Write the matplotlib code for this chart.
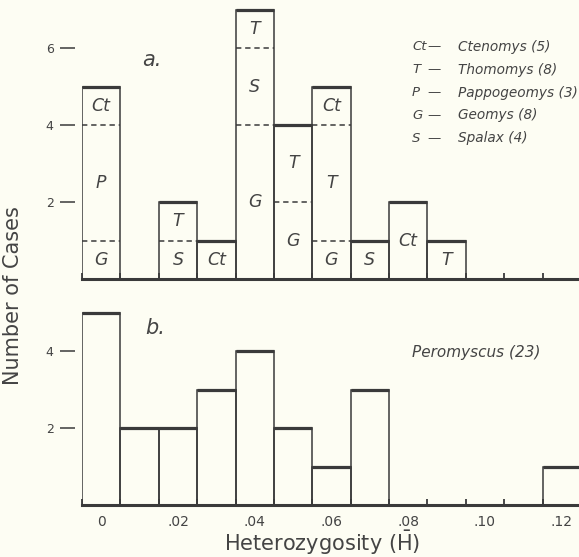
import numpy as np
import matplotlib.pyplot as plt
from matplotlib.ticker import FixedLocator

# heterozygosity classes (bin centres) and counts
bins = [0.00, 0.01, 0.02, 0.03, 0.04, 0.05, 0.06, 0.07, 0.08, 0.09, 0.10, 0.11, 0.12]

# a. fossorial rodents, stacked by genus (bottom -> top)
geomys      = [1, 0, 0, 0, 4, 2, 1, 0, 0, 0, 0, 0, 0]
pappogeomys = [3, 0, 0, 0, 0, 0, 0, 0, 0, 0, 0, 0, 0]
spalax      = [0, 0, 1, 0, 2, 0, 0, 1, 0, 0, 0, 0, 0]
thomomys    = [0, 0, 1, 0, 1, 2, 3, 0, 0, 1, 0, 0, 0]
ctenomys    = [1, 0, 0, 1, 0, 0, 1, 0, 2, 0, 0, 0, 0]
codes = ["G", "P", "S", "T", "Ct"]

legend_codes = ["Ct", "T", "P", "G", "S"]
legend_names = ["Ctenomys (5)", "Thomomys (8)", "Pappogeomys (3)", "Geomys (8)", "Spalax (4)"]

# b. Peromyscus
peromyscus = [5, 2, 2, 3, 4, 2, 1, 3, 0, 0, 0, 0, 1]

xtick_pos = [0.00, 0.02, 0.04, 0.06, 0.08, 0.10, 0.12]
xtick_labels = ["0", ".02", ".04", ".06", ".08", ".10", ".12"]

ink = "#3a3a3a"
txt = "#444444"
bg = "#fdfdf3"
W, H = 579, 557
w = 0.01

fig = plt.figure(figsize=(W / 100, H / 100), dpi=100, facecolor=bg)

def px(x, y):
    return x / W, 1 - y / H

left = 82 / W
ax_a = fig.add_axes([left, (H - 279) / H, 1 - left, 279 / H])
ax_b = fig.add_axes([left, (H - 505) / H, 1 - left, 220 / H])


def style(ax, ytop, yticks, labels):
    ax.set_facecolor(bg)
    ax.set_xlim(-0.005, 0.1245)
    ax.set_ylim(0, ytop)
    for s in ["top", "right"]:
        ax.spines[s].set_visible(False)
    ax.spines["left"].set_position(("outward", 5))
    ax.spines["left"].set_visible(False)
    ax.spines["bottom"].set_linewidth(2.2)
    ax.spines["bottom"].set_color(ink)
    ax.set_yticks(yticks)
    ax.tick_params(axis="y", length=10.5, width=1.1, color=ink, labelcolor=txt,
                   labelsize=9, pad=5)
    ax.set_xticks(xtick_pos)
    ax.set_xticklabels(xtick_labels if labels else [])
    ax.tick_params(axis="x", which="major", length=0, labelsize=10, labelcolor=txt, pad=7)
    edges = np.arange(-0.005, 0.13, 0.01)
    ax.xaxis.set_minor_locator(FixedLocator(edges))
    ax.tick_params(axis="x", which="minor", direction="in", length=4, width=1.3, color=ink)


def draw_bars(ax, totals):
    totals = np.array(totals)
    x = np.array(bins)
    ax.bar(x, totals, width=w, facecolor="none", edgecolor=ink, linewidth=1.1)
    m = totals > 0
    ax.hlines(totals[m], x[m] - w / 2, x[m] + w / 2, color=ink, linewidth=2.3)


# panel a
stack = np.array([geomys, pappogeomys, spalax, thomomys, ctenomys])
totals_a = stack.sum(axis=0)
style(ax_a, 279 / 38.5, [2, 4, 6], False)
draw_bars(ax_a, totals_a)
bottom = np.zeros(len(bins))
for code, counts in zip(codes, stack):
    for i, c in enumerate(counts):
        if c == 0:
            continue
        if bottom[i] > 0:
            ax_a.hlines(bottom[i], bins[i] - w / 2, bins[i] + w / 2, color=ink,
                        linewidth=1.1, linestyles=(0, (3.5, 2.5)))
        ax_a.text(bins[i], bottom[i] + c / 2, code, ha="center", va="center",
                  fontsize=12.5, style="italic", color=txt)
    bottom += counts

fig.text(*px(142, 60), "a.", fontsize=15, style="italic", color=txt, ha="left", va="center")
for k, (code, name) in enumerate(zip(legend_codes, legend_names)):
    y = 47 + k * 22.8
    fig.text(*px(412, y), code, fontsize=9.5, style="italic", color=txt, va="center")
    fig.text(*px(427, y), "\u2014", fontsize=9.5, color=txt, va="center")
    fig.text(*px(458, y), name, fontsize=9.8, style="italic", color=txt, va="center")

# panel b
style(ax_b, 220 / 38.5, [2, 4], True)
draw_bars(ax_b, peromyscus)
fig.text(*px(145, 328), "b.", fontsize=15, style="italic", color=txt, ha="left", va="center")
fig.text(*px(412, 353), "Peromyscus (23)", fontsize=11, style="italic", color=txt, va="center")

fig.text(*px(322, 543), "Heterozygosity ($\\bar{\\mathrm{H}}$)", fontsize=15, color=txt,
         ha="center", va="center")
fig.text(*px(13, 296), "Number of Cases", fontsize=15, color=txt, rotation=90,
         ha="center", va="center")

fig.savefig("out.png", dpi=100, facecolor=bg)
